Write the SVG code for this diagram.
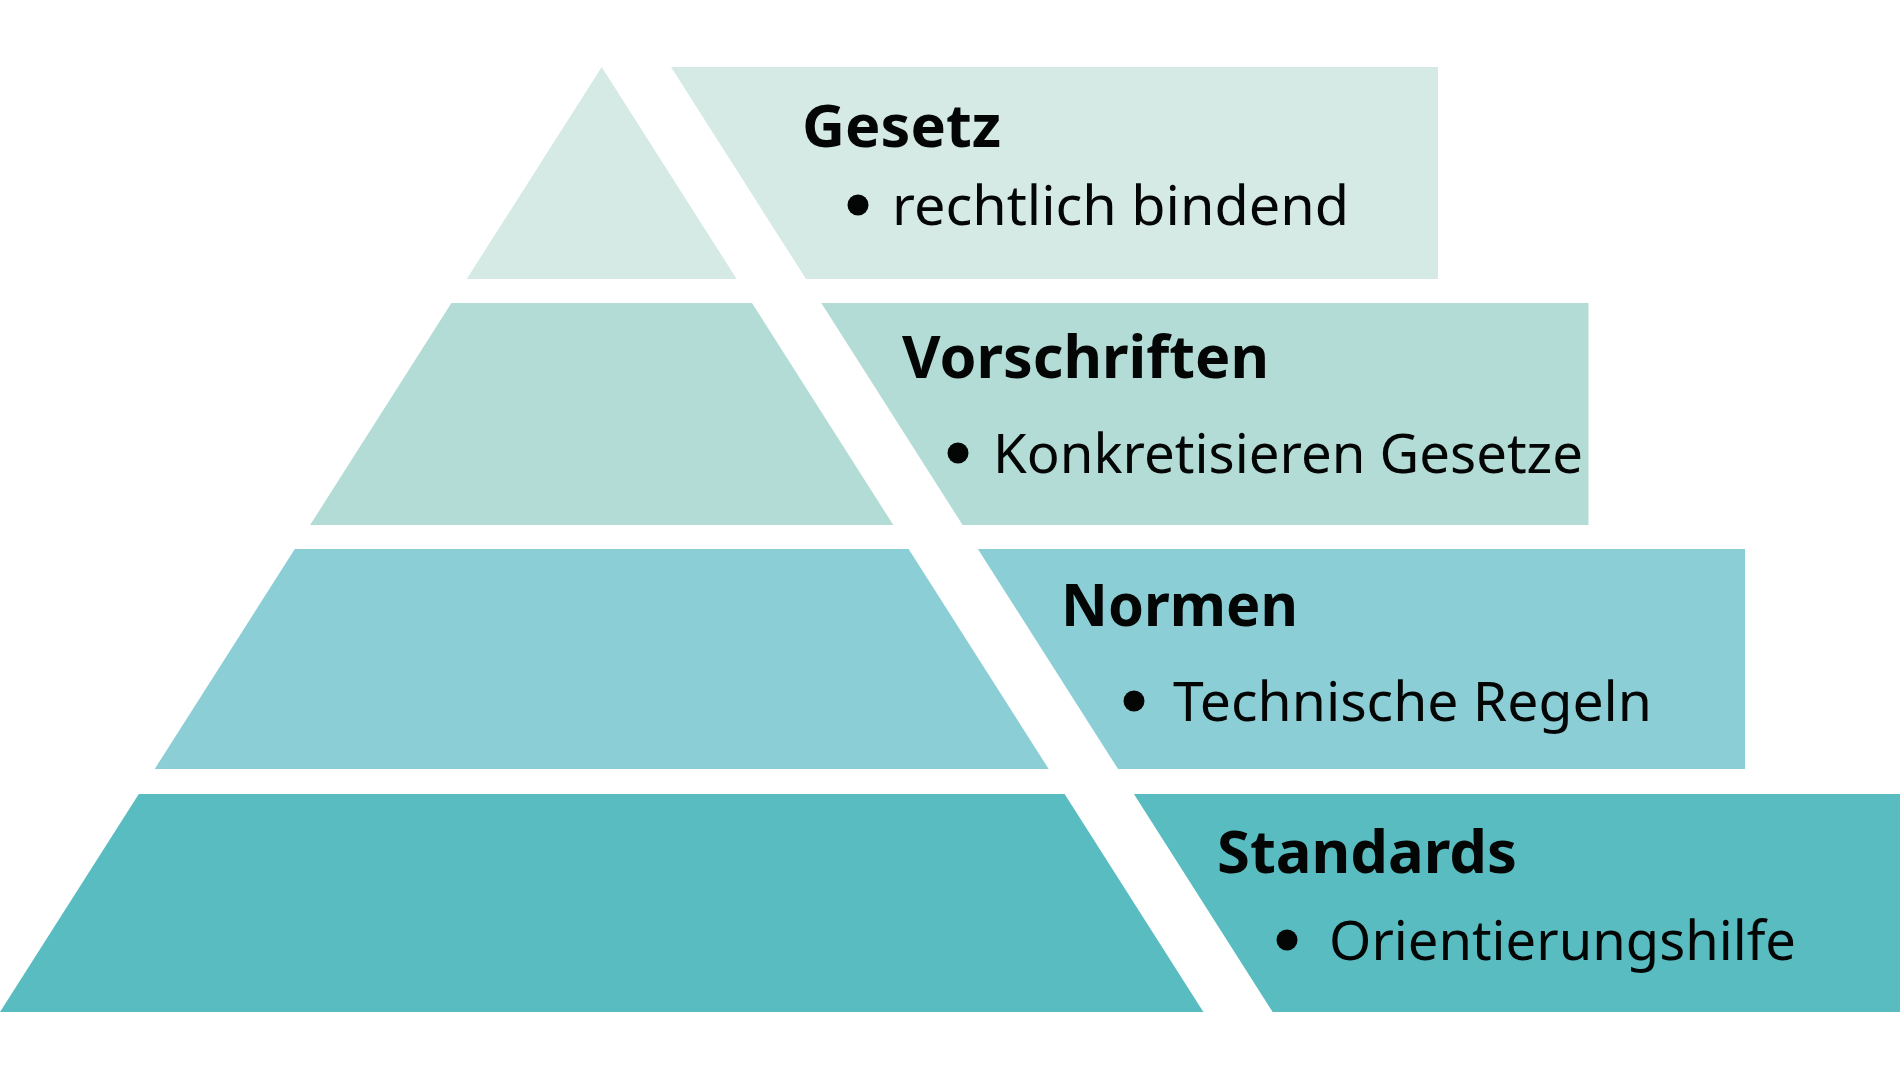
<svg xmlns="http://www.w3.org/2000/svg" width="1900" height="1080" viewBox="0 0 1900 1080">
  <style>
    .title { font-family: "Noto Sans", "Open Sans", "Liberation Sans", sans-serif; font-weight: 700; font-size: 59px; fill: #040606; }
    .item { font-family: "Noto Sans", "Open Sans", "Liberation Sans", sans-serif; font-weight: 400; font-size: 54px; fill: #040606; }
    .dot { fill: #040606; }
    .c1 { fill: #D5EAE4; }
    .c2 { fill: #B3DCD6; }
    .c3 { fill: #8CCED6; }
    .c4 { fill: #58BCC1; }
  </style>
  <rect x="0" y="0" width="1900" height="1080" fill="#FFFFFF"/>

  <g id="layer-gesetz">
    <polygon class="c1" points="601.7,67 736.7,279 466.7,279"/>
    <polygon class="c1" points="671,67 1438,67 1438,279 806,279"/>
    <text class="title" x="802" y="147" textLength="199" lengthAdjust="spacingAndGlyphs">Gesetz</text>
    <circle class="dot" cx="858" cy="205" r="10.5"/>
    <text class="item" x="892" y="225" textLength="457" lengthAdjust="spacingAndGlyphs">rechtlich bindend</text>
  </g>

  <g id="layer-vorschriften">
    <polygon class="c2" points="451.4,303 752,303 893.3,525 310.1,525"/>
    <polygon class="c2" points="821.3,303 1588.5,303 1588.5,525 962.6,525"/>
    <text class="title" x="902" y="378" textLength="367" lengthAdjust="spacingAndGlyphs">Vorschriften</text>
    <circle class="dot" cx="958" cy="453" r="10.5"/>
    <text class="item" x="993" y="473" textLength="590" lengthAdjust="spacingAndGlyphs">Konkretisieren Gesetze</text>
  </g>

  <g id="layer-normen">
    <polygon class="c3" points="294.8,549 908.6,549 1048.7,769 154.7,769"/>
    <polygon class="c3" points="977.9,549 1745,549 1745,769 1118,769"/>
    <text class="title" x="1061" y="626" textLength="237" lengthAdjust="spacingAndGlyphs">Normen</text>
    <circle class="dot" cx="1134" cy="701" r="10.5"/>
    <text class="item" x="1173" y="721" textLength="479" lengthAdjust="spacingAndGlyphs">Technische Regeln</text>
  </g>

  <g id="layer-standards">
    <polygon class="c4" points="138.8,794 1064.6,794 1203.4,1012 0,1012"/>
    <polygon class="c4" points="1133.9,794 1900,794 1900,1012 1272.7,1012"/>
    <text class="title" x="1217" y="873" textLength="300" lengthAdjust="spacingAndGlyphs">Standards</text>
    <circle class="dot" cx="1287" cy="940" r="10.5"/>
    <text class="item" x="1329" y="960" textLength="467" lengthAdjust="spacingAndGlyphs">Orientierungshilfe</text>
  </g>
</svg>
